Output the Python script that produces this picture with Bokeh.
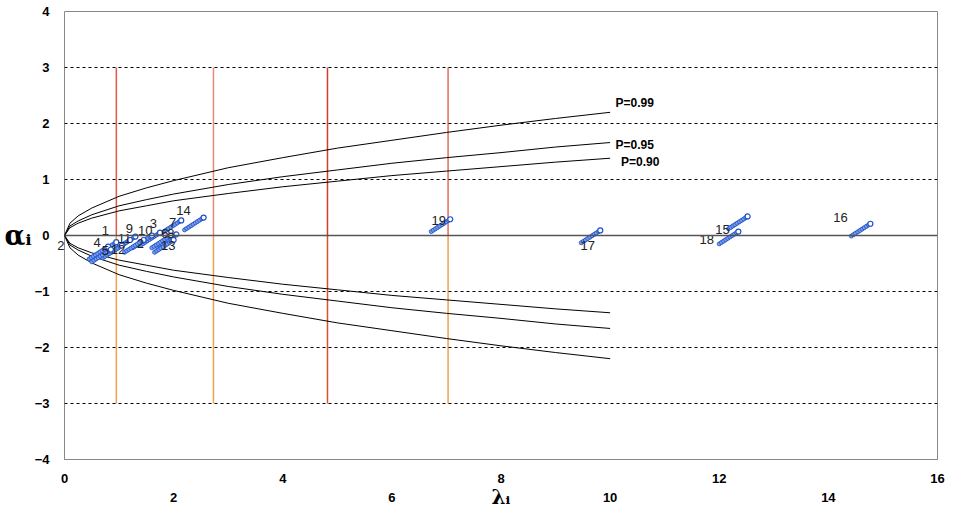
from bokeh.plotting import figure
from bokeh.models import LinearAxis, FixedTicker, Span
from bokeh.core.properties import value
from bokeh.embed import file_html
from bokeh.resources import INLINE
import numpy as np

# ---- data ----
curve_x = [0, 0.1, 0.25, 0.5, 1, 1.5, 2, 3, 4, 5, 6, 7, 8, 9, 10]
curve_p99 = [0, 0.22, 0.35, 0.49, 0.70, 0.85, 0.98, 1.21, 1.39, 1.56, 1.70, 1.84, 1.97, 2.09, 2.20]
curve_p95 = [0, 0.17, 0.26, 0.37, 0.53, 0.64, 0.74, 0.91, 1.05, 1.17, 1.29, 1.39, 1.48, 1.58, 1.66]
curve_p90 = [0, 0.14, 0.22, 0.31, 0.44, 0.53, 0.62, 0.75, 0.87, 0.97, 1.07, 1.15, 1.23, 1.31, 1.38]
curve_names = ["P=0.99", "P=0.95", "P=0.90"]
curve_label_x = [10.1, 10.1, 10.2]
curve_label_y = [2.36, 1.62, 1.32]

vline_x = [0.95, 2.73, 4.82, 7.03]
vline_top_colors = ["#e05a48", "#e98a72", "#d23c28", "#e66a55"]
vline_bottom_colors = ["#f4a04e", "#f4a04e", "#d9502f", "#f4a04e"]

point_ids = ["1", "2", "3", "4", "5", "6", "7", "8", "9", "10", "11", "12", "13", "14",
             "15", "16", "17", "18", "19"]
point_lambda = [0.95, 1.45, 1.75, 0.80, 0.85, 1.95, 2.14, 2.05, 1.30, 1.60, 1.20, 1.05, 2.00, 2.55,
                12.52, 14.77, 9.82, 12.35, 7.07]
point_alpha = [-0.12, -0.08, 0.05, -0.20, -0.25, 0.00, 0.27, 0.02, -0.02, 0.00, -0.08, -0.18, -0.08, 0.32,
               0.34, 0.21, 0.09, 0.07, 0.29]
label_x = [0.75, 1.39, 1.63, 0.60, 0.75, 1.84, 1.98, 1.95, 1.19, 1.48, 1.10, 0.98, 1.90, 2.18,
           12.06, 14.22, 9.59, 11.77, 6.86]
label_y = [0.09, -0.14, 0.21, -0.13, -0.27, 0.04, 0.23, 0.04, 0.12, 0.09, -0.05, -0.25, -0.18, 0.45,
           0.10, 0.32, -0.18, -0.07, 0.27]
origin_label = "2"
origin_label_y = -0.18

y_ticks = [-4, -3, -2, -1, 0, 1, 2, 3, 4]
x_ticks_row1 = [0, 4, 8, 12, 16]
x_ticks_row2 = [2, 6, 10, 14]
grid_y = [-3, -2, -1, 1, 2, 3]

FONT = "Liberation Sans"

p = figure(width=955, height=518, x_range=(0, 16), y_range=(-4, 4),
           output_backend="svg", toolbar_location=None,
           min_border_left=64, min_border_right=18, min_border_top=11, min_border_bottom=59,
           x_axis_type=None, y_axis_type=None)
p.outline_line_color = "#888888"
p.outline_line_width = 1
p.background_fill_color = "white"
p.border_fill_color = "white"


def bare_axis(ax):
    ax.major_tick_in = 0
    ax.major_tick_out = 0
    ax.minor_tick_line_color = None
    ax.major_label_text_font = FONT
    ax.major_label_text_color = "black"
    return ax


# left: small "2" label just outside frame at the origin
ya0 = bare_axis(LinearAxis(ticker=FixedTicker(ticks=[origin_label_y])))
ya0.major_label_overrides = {origin_label_y: origin_label}
ya0.axis_line_color = None
ya0.major_label_standoff = 0
ya0.major_label_text_font_size = "13px"
ya0.major_label_text_color = "#222222"
p.add_layout(ya0, "left")

# left: numeric ticks + alpha title
ya = bare_axis(LinearAxis(ticker=FixedTicker(ticks=y_ticks)))
ya.axis_line_color = None
ya.major_label_standoff = 5
ya.major_label_text_font_style = "bold"
ya.major_label_text_font_size = "13px"
ya.axis_label = "αᵢ"
ya.axis_label_orientation = "horizontal"
ya.axis_label_text_font = "DejaVu Serif"
ya.axis_label_text_font_style = "bold"
ya.axis_label_text_font_size = "27px"
ya.axis_label_text_color = "black"
ya.axis_label_standoff = 0
p.add_layout(ya, "left")

# bottom axes (staggered labels)
xa1 = bare_axis(LinearAxis(ticker=FixedTicker(ticks=x_ticks_row1)))
xa1.axis_line_color = "#888888"
xa1.major_label_standoff = 14
xa1.major_label_text_font_style = "bold"
xa1.major_label_text_font_size = "13px"
p.add_layout(xa1, "below")

xa2 = bare_axis(LinearAxis(ticker=FixedTicker(ticks=x_ticks_row2)))
xa2.axis_line_color = None
xa2.major_label_standoff = 7
xa2.major_label_text_font_style = "bold"
xa2.major_label_text_font_size = "13px"
xa2.axis_label = "λᵢ"
xa2.axis_label_text_font = "DejaVu Serif"
xa2.axis_label_text_font_style = "bold"
xa2.axis_label_text_font_size = "20px"
xa2.axis_label_text_color = "black"
xa2.axis_label_standoff = -20
p.add_layout(xa2, "below")

# grid lines (dotted)
for gy in grid_y:
    p.add_layout(Span(location=gy, dimension="width", line_color="black",
                      line_dash="3 3", line_width=1))
p.add_layout(Span(location=0, dimension="width", line_color="#555555", line_width=1.5))

# vertical lines
for vx, ct, cb in zip(vline_x, vline_top_colors, vline_bottom_colors):
    p.line([vx, vx], [0, 3], line_color=ct, line_width=1.5)
    p.line([vx, vx], [-3, 0], line_color=cb, line_width=1.5)

# curves
for ys in (curve_p99, curve_p95, curve_p90):
    p.line(curve_x, ys, line_color="black", line_width=1)
    p.line(curve_x, [-v for v in ys], line_color="black", line_width=1)

p.text(x=curve_label_x, y=curve_label_y, text=curve_names, text_font=value(FONT),
       text_font_style="bold", text_font_size="12px", text_color="black",
       text_align="left", text_baseline="middle")

# points drawn as short trails ending at the point
lam = np.array(point_lambda)
alp = np.array(point_alpha)
trail_dx, trail_dy = 0.35, 0.22
p.segment(x0=lam - trail_dx, y0=alp - trail_dy, x1=lam, y1=alp,
          line_color="#2f5fd0", line_width=4, line_alpha=0.85)
for t in np.linspace(0.0, 0.9, 9):
    p.scatter(lam - trail_dx * (1 - t), alp - trail_dy * (1 - t), size=4,
              marker="circle", fill_color="#7aa0ee", line_color="#2050c8", line_width=0.8)
p.scatter(lam, alp, size=5, marker="circle", fill_color="white", line_color="#2050c8", line_width=1.2)

p.text(x=label_x, y=label_y, text=point_ids, text_font=value(FONT), text_font_size="13px",
       text_color="#222222", text_align="center", text_baseline="middle")

open("out.html", "w").write(file_html(p, INLINE))
